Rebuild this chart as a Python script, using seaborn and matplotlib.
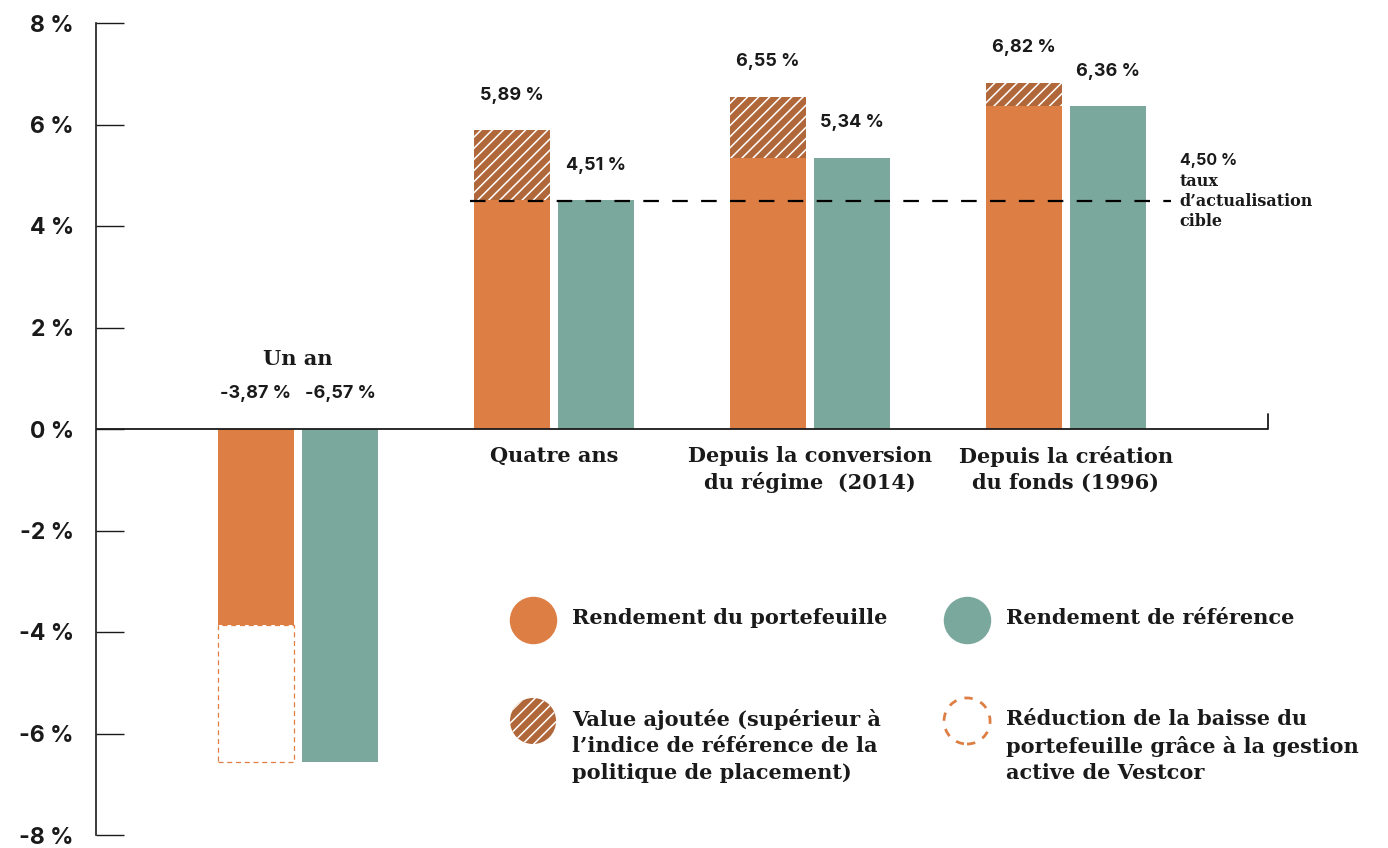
import pandas as pd
import seaborn as sns
import matplotlib.pyplot as plt
from matplotlib.patches import Rectangle

# data
categories = ["Un an", "Quatre ans", "Depuis la conversion\ndu régime  (2014)",
              "Depuis la création\ndu fonds (1996)"]
portfolio = [-3.87, 5.89, 6.55, 6.82]
benchmark = [-6.57, 4.51, 5.34, 6.36]
target_rate = 4.50
yticks = [-8, -6, -4, -2, 0, 2, 4, 6, 8]

ORANGE = "#DD7F45"
TEAL = "#7BA89D"
BROWN = "#B0683A"
DARK = "#1a1a1a"

SANS = ["Inter", "DejaVu Sans"]
SERIF = ["DejaVu Serif"]


def fmt(v):
    return ("%.2f %%" % v).replace(".", ",")


df = pd.DataFrame({
    "cat": categories * 2,
    "val": portfolio + benchmark,
    "serie": ["Rendement du portefeuille"] * 4 + ["Rendement de référence"] * 4,
})

sns.set_theme(style="white")
plt.rcParams["font.family"] = SANS
plt.rcParams["hatch.linewidth"] = 1.1

fig = plt.figure(figsize=(13.88, 8.48), dpi=100)
ax = fig.add_axes([96 / 1388, 13 / 848, 1172 / 1388, 812 / 848])

sns.barplot(data=df, x="cat", y="val", hue="serie", order=categories,
            palette=[ORANGE, TEAL], width=0.66, gap=0.1, saturation=1,
            linewidth=0, legend=False, ax=ax)

bars = [p for p in ax.patches if isinstance(p, Rectangle)]
port_bars = bars[:4]
bench_bars = bars[4:8]

# hatched value added / dashed reduction of the loss
for pb, p, b in zip(port_bars, portfolio, benchmark):
    x, w = pb.get_x(), pb.get_width()
    if p > 0 and p > b:
        ax.add_patch(Rectangle((x, b), w, p - b, facecolor=BROWN,
                               edgecolor="white", hatch="///", linewidth=0, zorder=3))
    elif p < 0 and b < p:
        ax.add_patch(Rectangle((x, b), w, p - b, fill=False, edgecolor=ORANGE,
                               linestyle=(0, (4, 3)), linewidth=0.9, zorder=3))

# value labels
for bar_set, vals in ((port_bars, portfolio), (bench_bars, benchmark)):
    for pb, v in zip(bar_set, vals):
        cx = pb.get_x() + pb.get_width() / 2
        ax.annotate(fmt(v), (cx, max(v, 0)), xytext=(0, 35), textcoords="offset pixels",
                    ha="center", va="center", fontsize=13, fontweight="bold",
                    family=SANS, color=DARK)

# category labels
for i, c in enumerate(categories):
    if portfolio[i] < 0:
        ax.annotate(c, (i, 0), xytext=(0, 70), textcoords="offset pixels",
                    ha="center", va="center", fontsize=15, fontweight="bold",
                    family=SERIF, color=DARK)
    else:
        ax.annotate(c, (i, 0), xytext=(0, -17), textcoords="offset pixels",
                    ha="center", va="top", fontsize=15, fontweight="bold",
                    family=SERIF, color=DARK, linespacing=1.35)

# target discount rate
ax.plot([0.67, 3.41], [target_rate, target_rate], color="black", lw=1.6,
        dashes=(7, 6), zorder=4)
ax.annotate(fmt(target_rate), (3.445, target_rate), xytext=(0, 40),
            textcoords="offset pixels", ha="left", va="center", fontsize=11.5,
            fontweight="bold", family=SANS, color=DARK)
ax.annotate("taux\nd’actualisation\ncible", (3.445, target_rate), xytext=(0, 28),
            textcoords="offset pixels", ha="left", va="top", fontsize=11.5,
            fontweight="bold", family=SERIF, color=DARK, linespacing=1.25)

# axes styling
ax.set_xlim(-0.79, 3.79)
ax.set_ylim(-8, 8)
ax.axhline(0, color=DARK, lw=1.3, zorder=5)
ax.plot([1, 1], [0, 0.3], transform=ax.get_yaxis_transform(), color=DARK,
        lw=1.3, clip_on=False)
ax.set_yticks(yticks)
ax.set_yticklabels(["%d %%" % t for t in yticks], fontsize=16.5, fontweight="bold",
                   family=SANS, color=DARK)
ax.tick_params(axis="y", direction="in", length=20, width=1.0, color=DARK, pad=16, left=True)
ax.set_xticks([])
ax.set_xlabel("")
ax.set_ylabel("")
for s in ("top", "right", "bottom"):
    ax.spines[s].set_visible(False)
ax.spines["left"].set_color(DARK)
ax.spines["left"].set_linewidth(1.2)

# legend
items = [
    (0.3729, 0.2648, dict(color=ORANGE), "Rendement du portefeuille"),
    (0.7432, 0.2648, dict(color=TEAL), "Rendement de référence"),
    (0.3729, 0.1404, dict(facecolor=BROWN, edgecolor="white", hatch="///", linewidths=0),
     "Value ajoutée (supérieur à\nl’indice de référence de la\npolitique de placement)"),
    (0.7432, 0.1404, dict(facecolor="none", edgecolor=ORANGE, linestyle=(0, (3, 3)),
                          linewidths=2),
     "Réduction de la baisse du\nportefeuille grâce à la gestion\nactive de Vestcor"),
]
for x, y, style, label in items:
    ax.scatter([x], [y], s=1100, marker="o", transform=ax.transAxes, clip_on=False, **style)
    ax.annotate(label, (x, y), xycoords="axes fraction", xytext=(39, 12),
                textcoords="offset pixels", ha="left", va="top", fontsize=15,
                fontweight="bold", family=SERIF, color=DARK, linespacing=1.4)

fig.savefig("out.png", dpi=100)
